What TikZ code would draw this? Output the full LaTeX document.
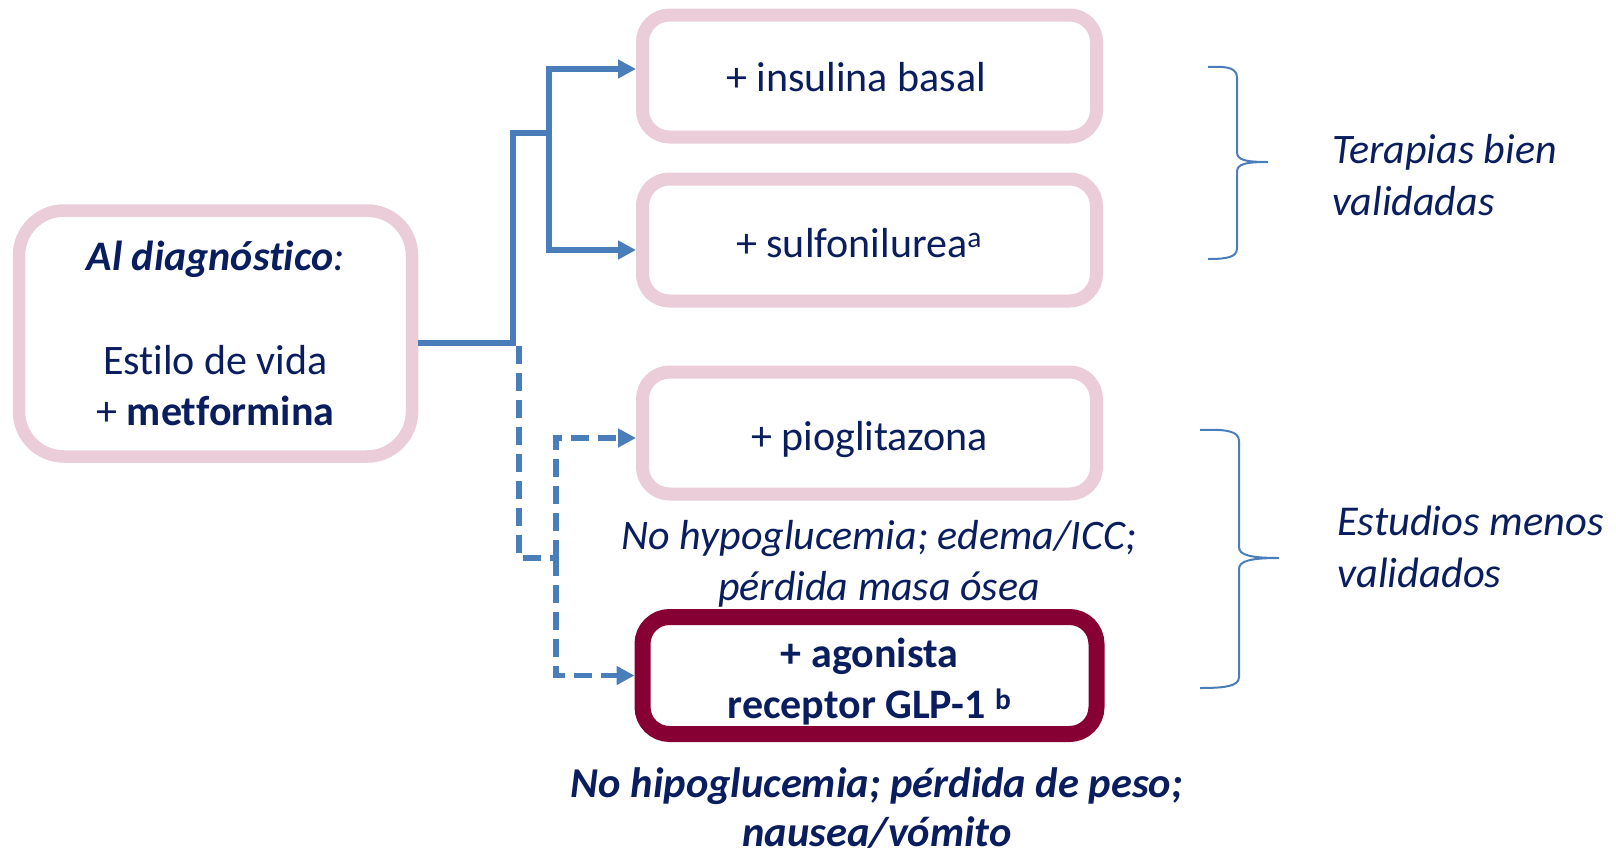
\documentclass[tikz,border=0pt]{standalone}
\usepackage{fontspec}
\setmainfont{Carlito}[Ligatures=NoCommon]
\usepackage{tikz}
\usetikzlibrary{arrows.meta}
\definecolor{BoxPink}{RGB}{235,205,218}
\definecolor{GlpRed}{RGB}{134,0,52}
\definecolor{LineBlue}{RGB}{74,126,187}
\definecolor{Navy}{RGB}{10,30,95}

\begin{document}
\begin{tikzpicture}[x=1pt, y=-1pt,
	box/.style={draw=BoxPink, line width=13pt, rounded corners=27pt, fill=white, minimum width=454pt, minimum height=122pt, inner sep=0pt, text=Navy, font=\fontsize{42}{51}\selectfont, align=center},
	single/.style={align=none, text height=36pt, text depth=2pt},
	conn/.style={draw=LineBlue, line width=5.5pt},
	dconn/.style={conn, dash pattern=on 18pt off 9pt},
	arr/.style={-{Triangle[length=18pt, width=18pt]}},
	note/.style={text=Navy, inner sep=0pt, font=\fontsize{42}{51}\selectfont\itshape, align=center},
	curly/.style={draw=LineBlue, line width=2pt}]
	\useasboundingbox (0,0) rectangle (1616,854);

	\node[box, line width=12.5pt, rounded corners=45pt, minimum width=393pt, minimum height=246pt] (diag) at (215.5,333.5) {\textbf{\textit{Al diagnóstico}}\textit{:}\\[53pt]Estilo de vida\\+ \textbf{metformina}};

	\node[box, single, text height=32pt] (basal) at (869.5,76) {+ insulina basal\hspace*{27pt}};
	\node[box, single] (sulfo) at (869.5,240) {+ sulfonilurea\textsuperscript{a}\hspace*{21pt}};
	\node[box, single] (pio) at (869.5,433) {+ pioglitazona};
	\node[box, draw=GlpRed, line width=16pt, minimum height=117pt] (glp) at (869.5,675.5) {\rule{0pt}{41pt}\textbf{+ agonista}\\\textbf{receptor GLP-1 \textsuperscript{b}}};

	\node[note] (pionote) at (879,564) {No hypoglucemia; edema/ICC;\\pérdida masa ósea};
	\node[note, font=\fontsize{42.5}{49}\selectfont\bfseries\itshape] (glpnote) at (877,808) {No hipoglucemia; pérdida de peso;\\nausea/vómito};

	\node[note, anchor=west, align=left, font=\fontsize{42}{52}\selectfont\itshape] (wellval) at (1332,175) {Terapias bien\\validadas};
	\node[note, anchor=west, align=left, font=\fontsize{42.5}{52}\selectfont\itshape] (lessval) at (1337,547) {Estudios menos\\validados};

	\coordinate (split) at (513,343);
	\coordinate (dsplit) at (519,346);
	\coordinate (upper) at (549,133);
	\coordinate (lower) at (556,558);

	\draw[conn] (diag.east |- split) -- (split) |- (upper);
	\draw[conn, arr] (upper) |- ([yshift=7pt]basal.west);
	\draw[conn, arr] (upper) |- ([yshift=-10pt]sulfo.west);

	\draw[dconn] (dsplit) -- (dsplit |- lower) -- (lower);
	\draw[dconn, arr] (lower) |- ([yshift=-5pt]pio.west);
	\draw[dconn, arr] (lower) |- (glp.west);

	% braces
	\draw[curly] (1208,67) .. controls (1228,66) and (1237,68) .. (1237,78) -- (1237,152) .. controls (1237,160) and (1245,162) .. (1268,162) .. controls (1245,162) and (1237,164) .. (1237,172) -- (1237,248) .. controls (1237,257) and (1228,259) .. (1208,259);
	\draw[curly] (1200,430) .. controls (1226,429) and (1239,431) .. (1239,441) -- (1239,547) .. controls (1239,555) and (1250,558) .. (1279,558) .. controls (1250,558) and (1239,561) .. (1239,569) -- (1239,677) .. controls (1239,686) and (1226,688) .. (1200,688);
\end{tikzpicture}
\end{document}
